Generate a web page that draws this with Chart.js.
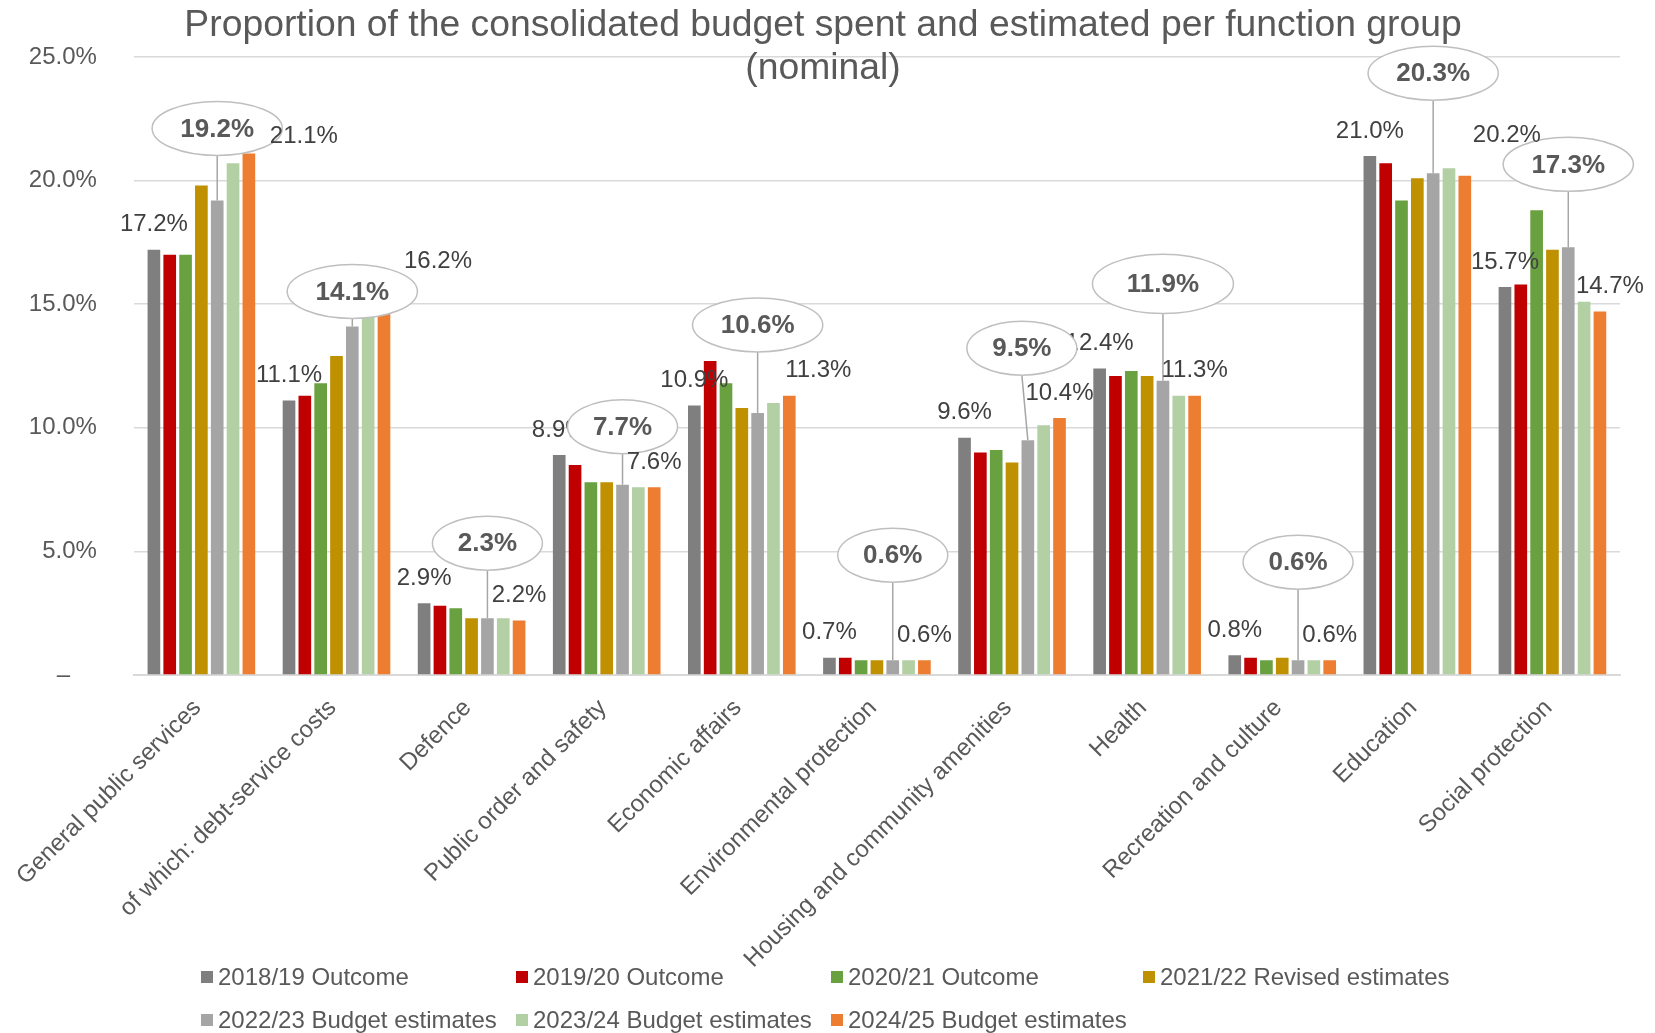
<!DOCTYPE html>
<html>
<head>
<meta charset="utf-8">
<script src="https://cdn.jsdelivr.net/npm/chart.js@4/dist/chart.umd.min.js"></script>
<style>
html,body{margin:0;padding:0;background:#fff;}
canvas{display:block;}
</style>
</head>
<body>
<canvas id="c" width="1655" height="1033"></canvas>
<script>
const categories = ["General public services","of which: debt-service costs","Defence","Public order and safety","Economic affairs","Environmental protection","Housing and community amenities","Health","Recreation and culture","Education","Social protection"];
const seriesNames = ["2018/19 Outcome","2019/20 Outcome","2020/21 Outcome","2021/22 Revised estimates","2022/23 Budget estimates","2023/24 Budget estimates","2024/25 Budget estimates"];
const outcome1819 = [17.2, 11.1, 2.9, 8.9, 10.9, 0.7, 9.6, 12.4, 0.8, 21.0, 15.7];
const outcome1920 = [17.0, 11.3, 2.8, 8.5, 12.7, 0.7, 9.0, 12.1, 0.7, 20.7, 15.8];
const outcome2021 = [17.0, 11.8, 2.7, 7.8, 11.8, 0.6, 9.1, 12.3, 0.6, 19.2, 18.8];
const revised2122 = [19.8, 12.9, 2.3, 7.8, 10.8, 0.6, 8.6, 12.1, 0.7, 20.1, 17.2];
const budget2223  = [19.2, 14.1, 2.3, 7.7, 10.6, 0.6, 9.5, 11.9, 0.6, 20.3, 17.3];
const budget2324  = [20.7, 15.3, 2.3, 7.6, 11.0, 0.6, 10.1, 11.3, 0.6, 20.5, 15.1];
const budget2425  = [21.1, 16.2, 2.2, 7.6, 11.3, 0.6, 10.4, 11.3, 0.6, 20.2, 14.7];
const yTicks = [0, 5, 10, 15, 20, 25];

// style / layout config (not data)
const colors = ["#7F7F7F","#C00000","#69A040","#BF9000","#A5A5A5","#B3CFA4","#ED7D31"];
const lastLabelDx = [55, 54, 0, 0, 29, 0, 0, 0, 0, 42, 10];
const lastLabelDy = [8, 12, 0, 0, 0, 0, 0, 0, 0, -15, 0];
const calloutDy = [-72, -35, -75, -58, -88, -105, -92, -97, -98, -100, -83];
const calloutDx = [0, 0, 0, 0, 0, 0, -6, 0, 0, 0, 0];
const calloutScale = [1, 1, 1, 1, 1, 1, 1, 1.1, 1, 1, 1];
const FONT = "'Liberation Sans', Arial, sans-serif";

const allSeries = [outcome1819, outcome1920, outcome2021, revised2122, budget2223, budget2324, budget2425];

const fmt = v => v.toFixed(1) + '%';

const annotPlugin = {
  id: 'annot',
  afterDatasetsDraw(chart) {
    const ctx = chart.ctx;
    ctx.save();
    ctx.textAlign = 'center';
    ctx.textBaseline = 'middle';
    // first-series labels
    ctx.font = '24px ' + FONT;
    ctx.fillStyle = '#404040';
    const m0 = chart.getDatasetMeta(0);
    m0.data.forEach((bar, i) => {
      ctx.fillText(fmt(outcome1819[i]), bar.x, bar.y - 25);
    });
    // callouts for 2022/23
    const m4 = chart.getDatasetMeta(4);
    ctx.font = 'bold 26px ' + FONT;
    m4.data.forEach((bar, i) => {
      const txt = fmt(budget2223[i]);
      const tw = ctx.measureText(txt).width;
      const sc = calloutScale[i];
      const w = (tw * 1.4 + 27) * sc, h = 54 * sc;
      const cx = bar.x + calloutDx[i], cy = bar.y + calloutDy[i];
      ctx.strokeStyle = '#A6A6A6';
      ctx.lineWidth = 1.5;
      ctx.beginPath();
      ctx.moveTo(cx, cy + h / 2);
      ctx.lineTo(bar.x, bar.y);
      ctx.stroke();
      ctx.beginPath();
      ctx.ellipse(cx, cy, w / 2, h / 2, 0, 0, Math.PI * 2);
      ctx.fillStyle = '#FFFFFF';
      ctx.fill();
      ctx.strokeStyle = '#BFBFBF';
      ctx.lineWidth = 1.5;
      ctx.stroke();
      ctx.fillStyle = '#595959';
      ctx.fillText(txt, cx, cy + 1);
    });
    // last-series labels (drawn above callouts)
    ctx.font = '24px ' + FONT;
    ctx.fillStyle = '#404040';
    const m6 = chart.getDatasetMeta(6);
    m6.data.forEach((bar, i) => {
      ctx.fillText(fmt(budget2425[i]), bar.x + lastLabelDx[i], bar.y - 25 + lastLabelDy[i]);
    });
    ctx.restore();
  },
  afterDraw(chart) {
    const ctx = chart.ctx;
    ctx.save();
    // title
    ctx.font = '37.3px ' + FONT;
    ctx.fillStyle = '#595959';
    ctx.textAlign = 'center';
    ctx.textBaseline = 'middle';
    ctx.fillText('Proportion of the consolidated budget spent and estimated per function group', 823, 26);
    ctx.fillText('(nominal)', 823, 69);
    // legend
    const colX = [201, 516, 831, 1143];
    const rowY = [977, 1020];
    ctx.font = '24px ' + FONT;
    ctx.textAlign = 'left';
    chart.data.datasets.forEach((ds, i) => {
      const x = colX[i % 4], y = rowY[Math.floor(i / 4)];
      ctx.fillStyle = ds.backgroundColor;
      ctx.fillRect(x, y - 6, 12, 12);
      ctx.fillStyle = '#595959';
      ctx.fillText(ds.label, x + 17, y + 1);
    });
    ctx.restore();
  }
};

new Chart(document.getElementById('c'), {
  type: 'bar',
  data: {
    labels: categories,
    datasets: allSeries.map((d, i) => ({
      label: seriesNames[i],
      data: d,
      backgroundColor: colors[i],
      borderWidth: 0,
      barPercentage: 0.8,
      categoryPercentage: 0.82
    }))
  },
  options: {
    responsive: false,
    animation: false,
    layout: { padding: { top: 57, right: 35, left: 0, bottom: 0 } },
    plugins: { legend: { display: false }, title: { display: false }, tooltip: { enabled: false } },
    scales: {
      x: {
        grid: { display: false, drawTicks: false },
        border: { display: true, color: '#D9D9D9', width: 2 },
        ticks: { minRotation: 45, maxRotation: 45, autoSkip: false, padding: 19, labelOffset: -4, color: '#595959', font: { size: 24, family: FONT } },
        afterFit: s => { s.height = 358; }
      },
      y: {
        min: 0, max: 25,
        afterBuildTicks: s => { s.ticks = yTicks.map(v => ({ value: v })); },
        ticks: {
          padding: 37, color: '#595959', font: { size: 24, family: FONT },
          callback: v => v === 0 ? '\u2013    ' : v.toFixed(1) + '%'
        },
        grid: { color: '#D9D9D9', lineWidth: 1.5, drawTicks: false },
        border: { display: false },
        afterFit: s => { s.width = 132; }
      }
    }
  },
  plugins: [annotPlugin]
});
</script>
</body>
</html>
